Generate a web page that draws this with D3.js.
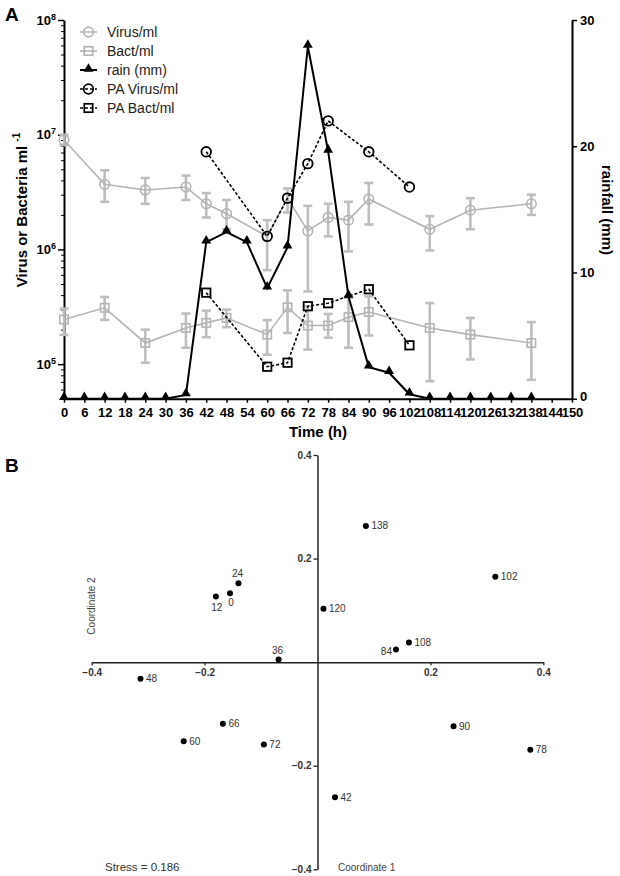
<!DOCTYPE html>
<html>
<head>
<meta charset="utf-8">
<script src="https://cdn.jsdelivr.net/npm/d3@7/dist/d3.min.js"></script>
<style>
  html, body { margin: 0; padding: 0; background: #fff; }
  svg { display: block; font-family: "Liberation Sans", Arial, sans-serif; }
</style>
</head>
<body>
<svg id="chart" width="620" height="876"></svg>
<script>
// ---------- Panel A data ----------
const timesVB = [0, 12, 24, 36, 42, 48, 60, 66, 72, 78, 84, 90, 108, 120, 138];
const virus   = [9.0e6, 3.7e6, 3.3e6, 3.5e6, 2.5e6, 2.05e6, 1.3e6, 2.8e6, 1.45e6, 1.9e6, 1.8e6, 2.75e6, 1.5e6, 2.2e6, 2.5e6];
const virusLo = [8.1e6, 2.6e6, 2.5e6, 2.7e6, 1.9e6, 1.5e6, 6.6e5, 2.1e6, 4.3e5, 1.3e6, 9.6e5, 1.65e6, 9.8e5, 1.5e6, 2.0e6];
const virusHi = [1.0e7, 4.9e6, 4.2e6, 4.4e6, 3.1e6, 2.7e6, 1.8e6, 3.4e6, 2.4e6, 2.5e6, 2.6e6, 3.8e6, 1.95e6, 2.8e6, 3.0e6];
const bact    = [2.45e5, 3.1e5, 1.53e5, 2.07e5, 2.29e5, 2.53e5, 1.81e5, 3.13e5, 2.17e5, 2.17e5, 2.57e5, 2.85e5, 2.07e5, 1.81e5, 1.53e5];
const bactLo  = [1.8e5, 2.43e5, 1.03e5, 1.39e5, 1.72e5, 2.1e5, 1.21e5, 1.87e5, 1.34e5, 1.7e5, 1.39e5, 1.78e5, 7.1e4, 1.1e5, 7.3e4];
const bactHi  = [3.05e5, 3.85e5, 2.0e5, 2.76e5, 2.93e5, 2.99e5, 2.42e5, 4.4e5, 3.2e5, 2.74e5, 3.8e5, 3.9e5, 3.41e5, 2.53e5, 2.33e5];
const rainTimes = [0, 6, 12, 18, 24, 30, 36, 42, 48, 54, 60, 66, 72, 78, 84, 90, 96, 102, 108, 114, 120, 126, 132, 138];
const rain      = [0, 0, 0, 0, 0, 0, 0.3, 12.4, 13.2, 12.4, 8.75, 12.0, 27.9, 19.6, 8.1, 2.5, 2.06, 0.35, 0, 0, 0, 0, 0, 0];
const paTimes = [42, 60, 66, 72, 78, 90, 102];
const paVirus = [7.1e6, 1.3e6, 2.8e6, 5.6e6, 1.32e7, 7.1e6, 3.5e6];
const paBact  = [4.2e5, 9.5e4, 1.03e5, 3.2e5, 3.4e5, 4.5e5, 1.46e5];
const xTickVals = [0, 6, 12, 18, 24, 30, 36, 42, 48, 54, 60, 66, 72, 78, 84, 90, 96, 102, 108, 114, 120, 126, 132, 138, 144, 150];
const leftTickExp = [5, 6, 7, 8];
const rightTickVals = [0, 10, 20, 30];
const legendLabels = ["Virus/ml", "Bact/ml", "rain (mm)", "PA Virus/ml", "PA Bact/ml"];

// ---------- Panel B data ----------
const mdsLabels = ["0", "12", "24", "36", "42", "48", "60", "66", "72", "78", "84", "90", "102", "108", "120", "138"];
const mdsX = [-0.155, -0.180, -0.140, -0.069, 0.031, -0.3135, -0.237, -0.1676, -0.095, 0.377, 0.139, 0.241, 0.315, 0.162, 0.0106, 0.0857];
const mdsY = [0.133, 0.127, 0.1525, 0.005, -0.261, -0.032, -0.1525, -0.119, -0.159, -0.169, 0.0243, -0.124, 0.165, 0.038, 0.103, 0.263];
const mdsLabelPos = ["below", "below", "above", "above", "right", "right", "right", "right", "right", "right", "left", "right", "right", "right", "right", "right"];
const bTickVals = [-0.4, -0.2, 0.2, 0.4];

const svg = d3.select("#chart");
const GRAY = "#b4b4b4";
const EGRAY = "#bebebe";

// ---------- Panel A ----------
const x = d3.scaleLinear().domain([0, 150]).range([64, 572]);
const yL = d3.scaleLog().domain([5e4, 1e8]).range([398.7, 20]);
const yR = d3.scaleLinear().domain([0, 30]).range([398.7, 20]);

const A = svg.append("g");

// x axis
const xAxis = A.append("g").attr("transform", "translate(0,398.7)")
  .call(d3.axisBottom(x).tickValues(xTickVals).tickSize(4).tickSizeOuter(0).tickPadding(5));
xAxis.selectAll("text").attr("font-size", 13).attr("font-weight", "bold").attr("fill", "#000")
  .attr("font-family", "Liberation Sans, Arial, sans-serif");
xAxis.selectAll("line").attr("stroke-width", 1.5);
xAxis.select(".domain").attr("stroke-width", 2);

// left axis major
const majorVals = leftTickExp.map(e => Math.pow(10, e));
const yAxisL = A.append("g").attr("transform", "translate(64,0)")
  .call(d3.axisLeft(yL).tickValues(majorVals).tickSize(6).tickSizeOuter(0).tickPadding(2).tickFormat(""));
yAxisL.select(".domain").attr("stroke-width", 2);
yAxisL.selectAll("line").attr("stroke-width", 1.5);
yAxisL.selectAll(".tick").each(function(d, i) {
  const t = d3.select(this).select("text")
    .attr("font-size", 13).attr("font-weight", "bold").attr("fill", "#000")
    .attr("font-family", "Liberation Sans, Arial, sans-serif").attr("x", -8);
  t.append("tspan").text("10");
  t.append("tspan").text(leftTickExp[i]).attr("font-size", 9).attr("dy", "-0.55em");
});
// minor ticks
const minorVals = [];
for (let e = 4; e < 8; e++) for (let m = 2; m <= 9; m++) {
  const v = m * Math.pow(10, e);
  if (v >= 5e4 && v <= 1e8) minorVals.push(v);
}
A.append("g").attr("transform", "translate(64,0)")
  .call(d3.axisLeft(yL).tickValues(minorVals).tickSize(3).tickSizeOuter(0).tickFormat(""))
  .call(g => g.select(".domain").remove())
  .selectAll("line").attr("stroke-width", 1);

// right axis
const yAxisR = A.append("g").attr("transform", "translate(572,0)")
  .call(d3.axisRight(yR).tickValues(rightTickVals).tickSize(5).tickSizeOuter(0).tickPadding(3));
yAxisR.select(".domain").attr("stroke-width", 2);
yAxisR.selectAll("line").attr("stroke-width", 1.5);
yAxisR.selectAll("text").attr("font-size", 13).attr("font-weight", "bold").attr("fill", "#000")
  .attr("font-family", "Liberation Sans, Arial, sans-serif")
  .attr("dy", d => d === 0 ? "0.1em" : "0.32em");

// axis titles
A.append("text").attr("x", 318).attr("y", 437).attr("text-anchor", "middle")
  .attr("font-size", 15).attr("font-weight", "bold").text("Time (h)");
const lt = A.append("text").attr("transform", "translate(27,210) rotate(-90)").attr("text-anchor", "middle")
  .attr("font-size", 15).attr("font-weight", "bold");
lt.append("tspan").text("Virus or Bacteria ml ");
lt.append("tspan").text("-1").attr("font-size", 10).attr("dy", "-0.7em");
A.append("text").attr("transform", "translate(602,210) rotate(90)").attr("text-anchor", "middle")
  .attr("font-size", 15).attr("font-weight", "bold").text("rainfall (mm)");

// panel label
svg.append("text").attr("x", 5).attr("y", 21).attr("font-size", 19).attr("font-weight", "bold").text("A");
svg.append("text").attr("x", 5).attr("y", 472).attr("font-size", 19).attr("font-weight", "bold").text("B");

// error bars
function errBars(vals, lo, hi) {
  const g = A.append("g").attr("stroke", EGRAY).attr("stroke-width", 2.6).attr("fill", "none");
  timesVB.forEach((t, i) => {
    const cx = x(t);
    g.append("line").attr("x1", cx).attr("x2", cx).attr("y1", yL(lo[i])).attr("y2", yL(hi[i]));
    g.append("line").attr("x1", cx - 4.5).attr("x2", cx + 4.5).attr("y1", yL(lo[i])).attr("y2", yL(lo[i]));
    g.append("line").attr("x1", cx - 4.5).attr("x2", cx + 4.5).attr("y1", yL(hi[i])).attr("y2", yL(hi[i]));
  });
}
errBars(virus, virusLo, virusHi);
errBars(bact, bactLo, bactHi);

const lineL = (ts) => d3.line().x((d, i) => x(ts[i])).y(d => yL(d));
A.append("path").datum(virus).attr("d", lineL(timesVB)).attr("fill", "none").attr("stroke", GRAY).attr("stroke-width", 1.6);
A.append("path").datum(bact).attr("d", lineL(timesVB)).attr("fill", "none").attr("stroke", GRAY).attr("stroke-width", 1.6);

A.append("g").selectAll("circle").data(virus).join("circle")
  .attr("cx", (d, i) => x(timesVB[i])).attr("cy", d => yL(d)).attr("r", 4.8)
  .attr("fill", "none").attr("stroke", GRAY).attr("stroke-width", 1.6);
A.append("g").selectAll("rect").data(bact).join("rect")
  .attr("x", (d, i) => x(timesVB[i]) - 4.2).attr("y", d => yL(d) - 4.2).attr("width", 8.4).attr("height", 8.4)
  .attr("fill", "none").attr("stroke", GRAY).attr("stroke-width", 1.6);

// rain
const tri = d3.symbol().type(d3.symbolTriangle).size(42);
A.append("path").datum(rain).attr("d", d3.line().x((d, i) => x(rainTimes[i])).y(d => yR(d)))
  .attr("fill", "none").attr("stroke", "#000").attr("stroke-width", 2);
A.append("g").selectAll("path").data(rain).join("path")
  .attr("d", tri).attr("transform", (d, i) => `translate(${x(rainTimes[i])},${yR(d) - 1.5})`).attr("fill", "#000");

// PA series
A.append("path").datum(paVirus).attr("d", lineL(paTimes)).attr("fill", "none").attr("stroke", "#000")
  .attr("stroke-width", 1.6).attr("stroke-dasharray", "3,2");
A.append("path").datum(paBact).attr("d", lineL(paTimes)).attr("fill", "none").attr("stroke", "#000")
  .attr("stroke-width", 1.6).attr("stroke-dasharray", "3,2");
A.append("g").selectAll("circle").data(paVirus).join("circle")
  .attr("cx", (d, i) => x(paTimes[i])).attr("cy", d => yL(d)).attr("r", 4.8)
  .attr("fill", "none").attr("stroke", "#000").attr("stroke-width", 1.8);
A.append("g").selectAll("rect").data(paBact).join("rect")
  .attr("x", (d, i) => x(paTimes[i]) - 4.2).attr("y", d => yL(d) - 4.2).attr("width", 8.4).attr("height", 8.4)
  .attr("fill", "none").attr("stroke", "#000").attr("stroke-width", 1.8);

// legend
const leg = A.append("g");
legendLabels.forEach((lab, i) => {
  const ly = 32 + i * 19;
  const g = leg.append("g").attr("transform", `translate(0,${ly})`);
  const col = i < 2 ? GRAY : "#000";
  const dash = i >= 3 ? "3,2" : null;
  g.append("line").attr("x1", 80).attr("x2", 97).attr("y1", 0).attr("y2", 0)
    .attr("stroke", col).attr("stroke-width", i === 2 ? 2 : 1.6).attr("stroke-dasharray", dash);
  if (i === 0 || i === 3) g.append("circle").attr("cx", 88.5).attr("cy", 0).attr("r", 4.8)
    .attr("fill", "none").attr("stroke", col).attr("stroke-width", 1.7);
  if (i === 1 || i === 4) g.append("rect").attr("x", 84.3).attr("y", -4.2).attr("width", 8.4).attr("height", 8.4)
    .attr("fill", "none").attr("stroke", col).attr("stroke-width", 1.7);
  if (i === 2) g.append("path").attr("d", tri).attr("transform", "translate(88.5,-1)").attr("fill", "#000");
  g.append("text").attr("x", 107).attr("y", 5).attr("font-size", 14).attr("fill", "#222").text(lab);
});

// ---------- Panel B ----------
const xB = d3.scaleLinear().domain([-0.4, 0.4]).range([91.7, 543.3]);
const yB = d3.scaleLinear().domain([-0.4, 0.4]).range([869.3, 455]);
const B = svg.append("g");
const fmt = d3.format(".1f");

const xAxB = B.append("g").attr("transform", `translate(0,${yB(0)})`)
  .call(d3.axisBottom(xB).tickValues(bTickVals).tickSize(3).tickSizeOuter(0).tickPadding(4).tickFormat(fmt));
const yAxB = B.append("g").attr("transform", `translate(${xB(0)},0)`)
  .call(d3.axisLeft(yB).tickValues(bTickVals).tickSize(4).tickSizeOuter(0).tickPadding(2).tickFormat(fmt));
[xAxB, yAxB].forEach(g => {
  g.select(".domain").attr("stroke", "#222").attr("stroke-width", 1.5);
  g.selectAll("line").attr("stroke", "#222").attr("stroke-width", 1.3);
  g.selectAll("text").attr("font-size", 10).attr("font-weight", "bold").attr("fill", "#333")
    .attr("font-family", "Liberation Sans, Arial, sans-serif");
});

B.append("g").selectAll("circle").data(mdsX).join("circle")
  .attr("cx", d => xB(d)).attr("cy", (d, i) => yB(mdsY[i])).attr("r", 3).attr("fill", "#000");
B.append("g").selectAll("text").data(mdsLabels).join("text")
  .attr("font-size", 10).attr("fill", "#333")
  .each(function(lab, i) {
    const px = xB(mdsX[i]), py = yB(mdsY[i]);
    const p = mdsLabelPos[i];
    const t = d3.select(this);
    if (p === "right") t.attr("x", px + 5.5).attr("y", py + 3.5).attr("text-anchor", "start");
    else if (p === "left") t.attr("x", px - 4).attr("y", py + 5).attr("text-anchor", "end");
    else if (p === "above") t.attr("x", px - 1).attr("y", py - 6).attr("text-anchor", "middle");
    else t.attr("x", px + 1).attr("y", py + (lab === "12" ? 15 : 13)).attr("text-anchor", "middle");
  })
  .text(d => d);

B.append("text").attr("transform", "translate(95,606) rotate(-90)").attr("text-anchor", "middle")
  .attr("font-size", 10).attr("fill", "#444").text("Coordinate 2");
B.append("text").attr("x", 338).attr("y", 871).attr("font-size", 10).attr("fill", "#444").text("Coordinate 1");
B.append("text").attr("x", 105).attr("y", 871).attr("font-size", 11.5).attr("fill", "#333").text("Stress = 0.186");
</script>
</body>
</html>
